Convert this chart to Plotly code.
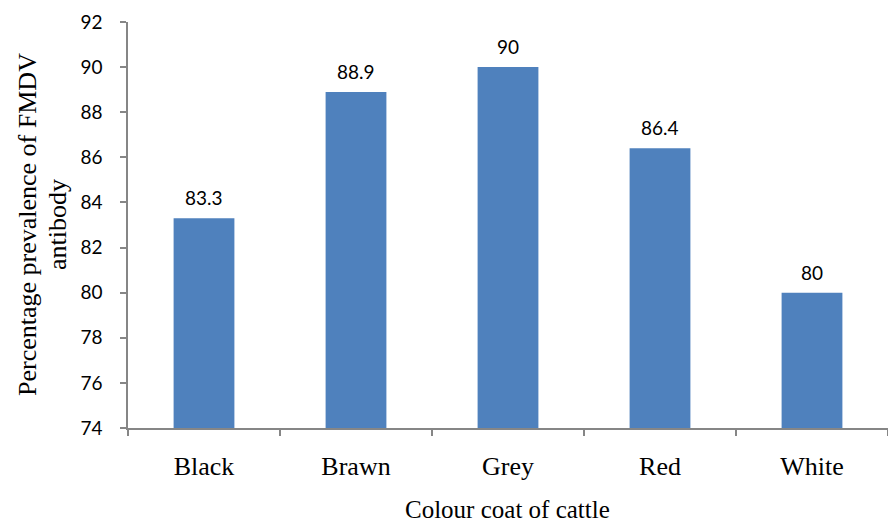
import plotly.graph_objects as go

categories = ["Black", "Brawn", "Grey", "Red", "White"]
prevalence = [83.3, 88.9, 90, 86.4, 80]
y_ticks = [74, 76, 78, 80, 82, 84, 86, 88, 90, 92]

axis_grey = "#868686"
serif = "Liberation Serif, Times New Roman, serif"
sans = "Lato, Open Sans, sans-serif"

W, H = 888, 525
M_L, M_R, M_T, M_B = 128, 0, 22, 97
plot_w = W - M_L - M_R
plot_h = H - M_T - M_B


def px_to_paper_x(px):
    return (px - M_L) / plot_w


def px_to_paper_y(py):
    return (H - M_B - py) / plot_h


fig = go.Figure(
    go.Bar(
        x=categories,
        y=prevalence,
        marker=dict(color="#4F81BD", line=dict(width=0)),
        width=0.4,
        hoverinfo="x+y",
    )
)

# value labels above the bars
annotations = [
    dict(
        x=c, y=v, xref="x", yref="y",
        text=f"{v:g}", showarrow=False,
        xanchor="center", yanchor="bottom", yshift=7,
        font=dict(family=sans, size=19, color="#000000"),
    )
    for c, v in zip(categories, prevalence)
]

# y-axis title, two rotated lines
annotations += [
    dict(
        x=px_to_paper_x(27), y=px_to_paper_y(225), xref="paper", yref="paper",
        text="Percentage prevalence of FMDV", showarrow=False, textangle=-90,
        xanchor="center", yanchor="middle",
        font=dict(family=serif, size=26, color="#000000"),
    ),
    dict(
        x=px_to_paper_x(57), y=px_to_paper_y(225), xref="paper", yref="paper",
        text="antibody", showarrow=False, textangle=-90,
        xanchor="center", yanchor="middle",
        font=dict(family=serif, size=26, color="#000000"),
    ),
    # x-axis title
    dict(
        x=px_to_paper_x(507), y=px_to_paper_y(509), xref="paper", yref="paper",
        text="Colour coat of cattle", showarrow=False,
        xanchor="center", yanchor="middle",
        font=dict(family=serif, size=25, color="#000000"),
    ),
]

fig.update_layout(
    width=W,
    height=H,
    margin=dict(l=M_L, r=M_R, t=M_T, b=M_B),
    paper_bgcolor="white",
    plot_bgcolor="white",
    showlegend=False,
    annotations=annotations,
    xaxis=dict(
        type="category",
        showline=True,
        linecolor=axis_grey,
        linewidth=1.5,
        ticks="outside",
        tickson="boundaries",
        ticklen=6,
        tickcolor=axis_grey,
        tickwidth=1.5,
        ticklabelstandoff=14,
        tickfont=dict(family=serif, size=26, color="#000000"),
        showgrid=False,
    ),
    yaxis=dict(
        range=[74, 92],
        tickvals=y_ticks,
        showline=True,
        linecolor=axis_grey,
        linewidth=1.5,
        ticks="outside",
        ticklen=6,
        tickcolor=axis_grey,
        tickwidth=1.5,
        ticklabelstandoff=14,
        tickfont=dict(family=sans, size=19, color="#000000"),
        showgrid=False,
        zeroline=False,
    ),
)

fig.write_html("out.html")
